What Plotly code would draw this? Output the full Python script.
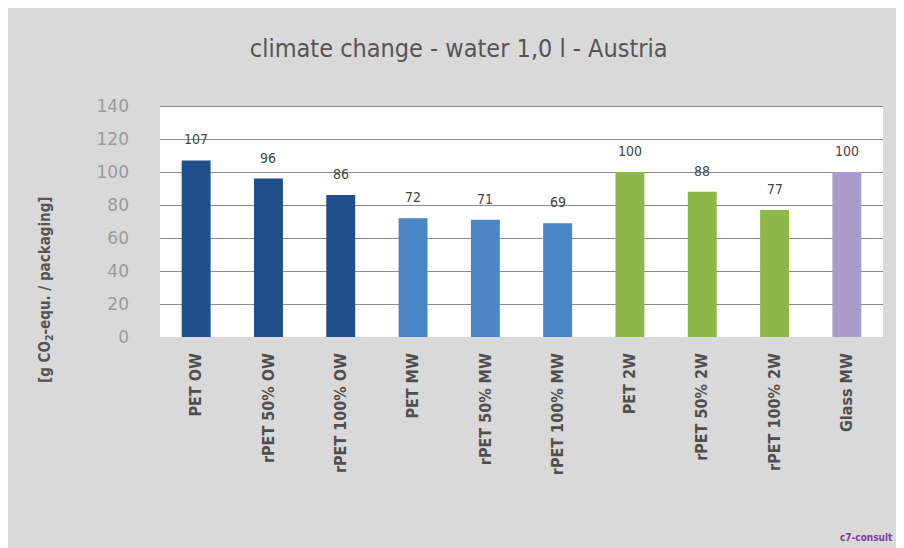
import plotly.graph_objects as go

categorias = ['PET OW', 'rPET 50% OW', 'rPET 100% OW', 'PET MW', 'rPET 50% MW',
              'rPET 100% MW', 'PET 2W', 'rPET 50% 2W', 'rPET 100% 2W', 'Glass MW']
valores = [107, 96, 86, 72, 71, 69, 100, 88, 77, 100]
cores = ['#1f4e8a', '#1f4e8a', '#1f4e8a', '#4a85c6', '#4a85c6', '#4a85c6',
         '#8db849', '#8db849', '#8db849', '#ab9bcc']
y_ticks = [0, 20, 40, 60, 80, 100, 120, 140]

fig = go.Figure()

fig.add_trace(go.Bar(x=categorias, y=valores, marker=dict(color=cores, line=dict(width=0)),
                     width=0.40, showlegend=False))

# rotulos acima das barras
for c, v in zip(categorias, valores):
    fig.add_annotation(x=c, y=v, text=str(v), showarrow=False, yanchor='bottom', yshift=11,
                       font=dict(family='DejaVu Sans Condensed', size=14, color='#444444'))

# a pagina tem margem de 8px no body, por isso a figura e 896x540
fig.update_layout(
    width=896, height=540,
    margin=dict(l=152, r=21, t=98, b=211),
    paper_bgcolor='#d9d9d9', plot_bgcolor='white',
    title=dict(text='climate change - water 1,0 l - Austria', x=0.503, xanchor='center',
               y=1 - 40/540, yanchor='middle',
               font=dict(family='Liberation Sans Narrow, DejaVu Sans Condensed', size=25, color='#555555')),
)

fig.update_xaxes(tickangle=-90, showline=False, ticks='', ticklabelstandoff=12,
                 tickfont=dict(family='DejaVu Sans Condensed', size=16, color='#4f4f4f', weight='bold'))
fig.update_yaxes(range=[0, 140], tickvals=y_ticks, showgrid=True, gridcolor='#8a8a8a', gridwidth=1,
                 zeroline=False, showline=False, ticks='', ticklabelstandoff=30,
                 tickfont=dict(family='DejaVu Sans', size=17, color='#9a9a9a'))

# linha superior mais escura
fig.add_shape(type='line', xref='paper', yref='y', x0=0, x1=1, y0=140, y1=140,
              line=dict(color='#5d6275', width=1.5))

fig.add_annotation(text='[g CO<sub>2</sub>-equ. / packaging]', textangle=-90, xref='paper', yref='paper',
                   x=-115/723, y=47/231, xanchor='center', yanchor='middle', showarrow=False,
                   font=dict(family='DejaVu Sans Condensed', size=15, color='#555555', weight='bold'))

fig.add_annotation(text='c7-consult', xref='paper', yref='paper', x=1 + 12/723, y=-200/231,
                   xanchor='right', yanchor='middle', showarrow=False,
                   font=dict(family='DejaVu Sans Condensed', size=10, color='#7b3fa0', weight='bold'))

fig.write_html("out.html")
